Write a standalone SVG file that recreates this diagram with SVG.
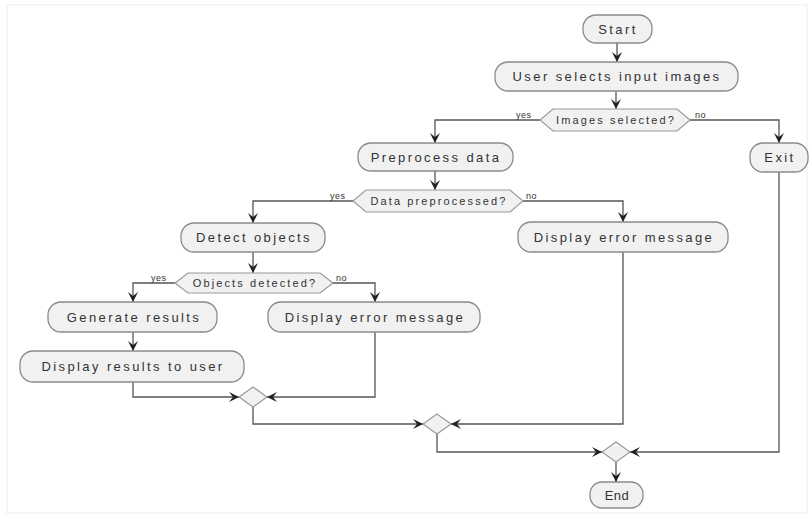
<svg xmlns="http://www.w3.org/2000/svg" width="811" height="517" viewBox="0 0 811 517">
<style>
.box{fill:#f1f1f1;stroke:#8a8a8a;stroke-width:1.3}
.dia{fill:#f1f1f1;stroke:#9a9a9a;stroke-width:1.2}
.t{font-family:"Liberation Sans",Arial,sans-serif;font-size:13px;fill:#333;letter-spacing:2.4px;text-anchor:middle}
.td{font-family:"Liberation Sans",Arial,sans-serif;font-size:11px;fill:#333;letter-spacing:2.1px;text-anchor:middle}
.tl{font-family:"Liberation Sans",Arial,sans-serif;font-size:9px;fill:#333;letter-spacing:0.5px}
.c{fill:none;stroke:#555;stroke-width:1.3}
</style>
<defs>
<marker id="ah" markerWidth="12" markerHeight="10" refX="10" refY="5" orient="auto" markerUnits="userSpaceOnUse">
<polygon points="0,0 10,5 0,10 4,5" fill="#222"/>
</marker>
</defs>
<rect x="7" y="5" width="800" height="508" fill="none" stroke="#f3f3f3" stroke-width="1.5"/>
<g id="connectors">
<path class="c" d="M617,43 V62" marker-end="url(#ah)"/>
<path class="c" d="M616,91 V109" marker-end="url(#ah)"/>
<path class="c" d="M540,120 H435 V143" marker-end="url(#ah)"/>
<path class="c" d="M690,120 H779 V143" marker-end="url(#ah)"/>
<path class="c" d="M435,171 V190" marker-end="url(#ah)"/>
<path class="c" d="M353,201 H253 V223" marker-end="url(#ah)"/>
<path class="c" d="M523,201 H623 V222" marker-end="url(#ah)"/>
<path class="c" d="M253,252 V273" marker-end="url(#ah)"/>
<path class="c" d="M175,283 H133 V302" marker-end="url(#ah)"/>
<path class="c" d="M333,283 H375 V302" marker-end="url(#ah)"/>
<path class="c" d="M133,332 V351" marker-end="url(#ah)"/>
<path class="c" d="M133,382 V397 H239" marker-end="url(#ah)"/>
<path class="c" d="M375,332 V397 H267" marker-end="url(#ah)"/>
<path class="c" d="M253,407 V424 H423" marker-end="url(#ah)"/>
<path class="c" d="M623,252 V424 H451" marker-end="url(#ah)"/>
<path class="c" d="M437,434 V452 H602" marker-end="url(#ah)"/>
<path class="c" d="M779,172 V452 H630" marker-end="url(#ah)"/>
<path class="c" d="M616,462 V482" marker-end="url(#ah)"/>
<text class="tl" x="516" y="118">yes</text>
<text class="tl" x="695" y="118">no</text>
<text class="tl" x="330" y="199">yes</text>
<text class="tl" x="526" y="199">no</text>
<text class="tl" x="151" y="281">yes</text>
<text class="tl" x="336" y="281">no</text>
</g>
<g id="start"><rect class="box" x="583" y="15" width="69" height="28" rx="13"/><text class="t" x="618" y="34">Start</text></g>
<g id="select"><rect class="box" x="495" y="62" width="243" height="29" rx="13"/><text class="t" x="617" y="81">User selects input images</text></g>
<g id="dec1"><polygon class="dia" points="540,120 553,109 677,109 690,120 677,131 553,131"/><text class="td" x="616" y="124">Images selected?</text></g>
<g id="preprocess"><rect class="box" x="358" y="143" width="155" height="28" rx="13"/><text class="t" x="436" y="162">Preprocess data</text></g>
<g id="exit"><rect class="box" x="750" y="143" width="58" height="29" rx="13"/><text class="t" x="780" y="162">Exit</text></g>
<g id="dec2"><polygon class="dia" points="353,201 366,190 510,190 523,201 510,212 366,212"/><text class="td" x="439" y="205">Data preprocessed?</text></g>
<g id="detect"><rect class="box" x="181" y="223" width="144" height="29" rx="13"/><text class="t" x="254" y="242">Detect objects</text></g>
<g id="error1"><rect class="box" x="518" y="222" width="210" height="30" rx="13"/><text class="t" x="624" y="242">Display error message</text></g>
<g id="dec3"><polygon class="dia" points="175,283 188,273 320,273 333,283 320,293 188,293"/><text class="td" x="255" y="287">Objects detected?</text></g>
<g id="generate"><rect class="box" x="48" y="302" width="169" height="30" rx="13"/><text class="t" x="134" y="322">Generate results</text></g>
<g id="error2"><rect class="box" x="268" y="302" width="212" height="30" rx="13"/><text class="t" x="375" y="322">Display error message</text></g>
<g id="results"><rect class="box" x="20" y="351" width="224" height="31" rx="13"/><text class="t" x="133" y="371">Display results to user</text></g>
<g id="merge1"><polygon class="dia" points="253,387 267,397 253,407 239,397"/></g>
<g id="merge2"><polygon class="dia" points="437,414 451,424 437,434 423,424"/></g>
<g id="merge3"><polygon class="dia" points="616,442 630,452 616,462 602,452"/></g>
<g id="end"><rect class="box" x="590" y="482" width="53" height="26" rx="12"/><text class="t" x="617" y="500" style="letter-spacing:0.5px">End</text></g>
</svg>
